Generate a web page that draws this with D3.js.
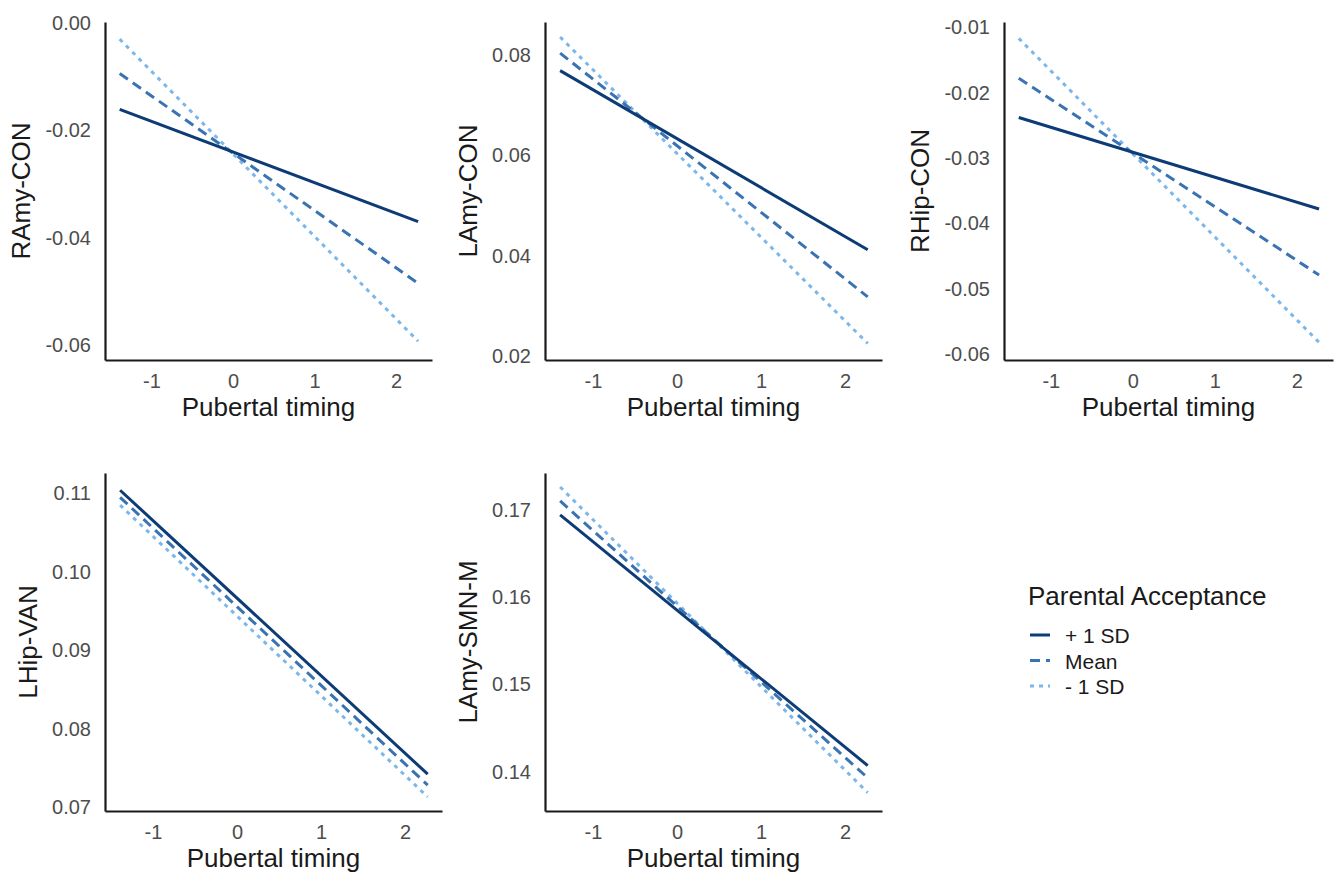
<!DOCTYPE html>
<html>
<head>
<meta charset="utf-8">
<script src="https://cdn.jsdelivr.net/npm/d3@7"></script>
<style>
  body { margin: 0; background: #fff; }
  svg text { font-family: "Liberation Sans", Arial, sans-serif; }
</style>
</head>
<body>
<div id="chart"></div>
<script>
// data
const pubertalTiming = [-1.39, 2.27];
const xTicks = [-1, 0, 1, 2];
const groups = ['+ 1 SD', 'Mean', '- 1 SD'];

const panelNames = ['RAmy-CON', 'LAmy-CON', 'RHip-CON', 'LHip-VAN', 'LAmy-SMN-M'];

// fitted values at the two ends of the pubertal timing range, per group (+1 SD, Mean, -1 SD)
const ramyCon = [[-0.0161, -0.0370], [-0.0094, -0.0485], [-0.0030, -0.0593]];
const lamyCon = [[0.0769, 0.0412], [0.0804, 0.0318], [0.0836, 0.0225]];
const rhipCon = [[-0.0238, -0.0378], [-0.0178, -0.0479], [-0.0117, -0.0582]];
const lhipVan = [[0.1104, 0.0742], [0.1095, 0.0728], [0.1085, 0.0713]];
const lamySmnM = [[0.1694, 0.1407], [0.1710, 0.1393], [0.1726, 0.1376]];

const yTicks = [
  [0.00, -0.02, -0.04, -0.06],
  [0.02, 0.04, 0.06, 0.08],
  [-0.01, -0.02, -0.03, -0.04, -0.05, -0.06],
  [0.07, 0.08, 0.09, 0.10, 0.11],
  [0.14, 0.15, 0.16, 0.17],
];
const yDomains = [
  [-0.0628, 0.0002],
  [0.0192, 0.0866],
  [-0.0609, -0.0092],
  [0.0695, 0.1126],
  [0.1355, 0.1742],
];
const xDomain = [-1.57, 2.44];

const panelValues = [ramyCon, lamyCon, rhipCon, lhipVan, lamySmnM];

// layout (pixels)
const layout = [
  { x: [105, 432], y: [360, 22] },
  { x: [545, 882], y: [360, 22] },
  { x: [1004, 1333], y: [360, 22] },
  { x: [105, 442], y: [811, 473] },
  { x: [545, 882], y: [811, 473] },
];

const colors = ['#0d3b76', '#3a73b2', '#7cb7ea'];
const dashes = [null, '10,6', '4,5'];

const svg = d3.select('#chart')
  .append('svg')
  .attr('width', 1336)
  .attr('height', 874);

panelNames.forEach((name, i) => {
  const lay = layout[i];
  const x = d3.scaleLinear().domain(xDomain).range(lay.x);
  const y = d3.scaleLinear().domain(yDomains[i]).range(lay.y);
  const g = svg.append('g');

  // y axis
  const yAxis = g.append('g')
    .attr('transform', `translate(${lay.x[0]},0)`)
    .call(d3.axisLeft(y).tickValues(yTicks[i]).tickSize(0).tickSizeOuter(0)
      .tickPadding(14).tickFormat((d) => d.toFixed(2)));
  yAxis.select('.domain').attr('stroke', '#1a1a1a').attr('stroke-width', 2.2);
  yAxis.selectAll('text')
    .style('font-size', '20px')
    .attr('fill', '#4d4d4d');

  // x axis
  const xAxis = g.append('g')
    .attr('transform', `translate(0,${lay.y[0]})`)
    .call(d3.axisBottom(x).tickValues(xTicks).tickSize(0).tickSizeOuter(0)
      .tickPadding(14).tickFormat((d) => String(d)));
  xAxis.select('.domain').attr('stroke', '#1a1a1a').attr('stroke-width', 2.2);
  xAxis.selectAll('text')
    .style('font-size', '20px')
    .attr('fill', '#4d4d4d')
    .attr('dy', '0.72em');

  // y title placed left of the widest tick label
  let maxW = 0;
  yAxis.selectAll('text').each(function () {
    maxW = Math.max(maxW, this.getBBox().width);
  });
  const titleX = lay.x[0] - 14 - maxW - 15;
  g.append('text')
    .attr('transform', `translate(${titleX},${(lay.y[0] + lay.y[1]) / 2}) rotate(-90)`)
    .attr('text-anchor', 'middle')
    .style('font-size', '26px')
    .attr('fill', '#1a1a1a')
    .text(name);

  // x title
  g.append('text')
    .attr('x', (lay.x[0] + lay.x[1]) / 2)
    .attr('y', lay.y[0] + 56)
    .attr('text-anchor', 'middle')
    .style('font-size', '26px')
    .attr('fill', '#1a1a1a')
    .text('Pubertal timing');

  // lines, drawn light to dark so the solid line sits on top
  const line = d3.line()
    .x((d) => x(d[0]))
    .y((d) => y(d[1]));
  [2, 1, 0].forEach((k) => {
    const pts = pubertalTiming.map((t, j) => [t, panelValues[i][k][j]]);
    g.append('path')
      .datum(pts)
      .attr('d', line)
      .attr('fill', 'none')
      .attr('stroke', colors[k])
      .attr('stroke-width', 3)
      .attr('stroke-dasharray', dashes[k]);
  });
});

// legend
const legend = svg.append('g').attr('transform', 'translate(1028,605)');
legend.append('text')
  .attr('x', 0)
  .attr('y', 0)
  .style('font-size', '26px')
  .attr('fill', '#1a1a1a')
  .text('Parental Acceptance');

groups.forEach((label, k) => {
  const yy = 38 + k * 25.5;
  legend.append('line')
    .attr('x1', 2)
    .attr('x2', 22)
    .attr('y1', yy - 8)
    .attr('y2', yy - 8)
    .attr('stroke', colors[k])
    .attr('stroke-width', 3)
    .attr('stroke-dasharray', dashes[k]);
  legend.append('text')
    .attr('x', 37)
    .attr('y', yy)
    .style('font-size', '21px')
    .attr('fill', '#1a1a1a')
    .text(label);
});
</script>
</body>
</html>
